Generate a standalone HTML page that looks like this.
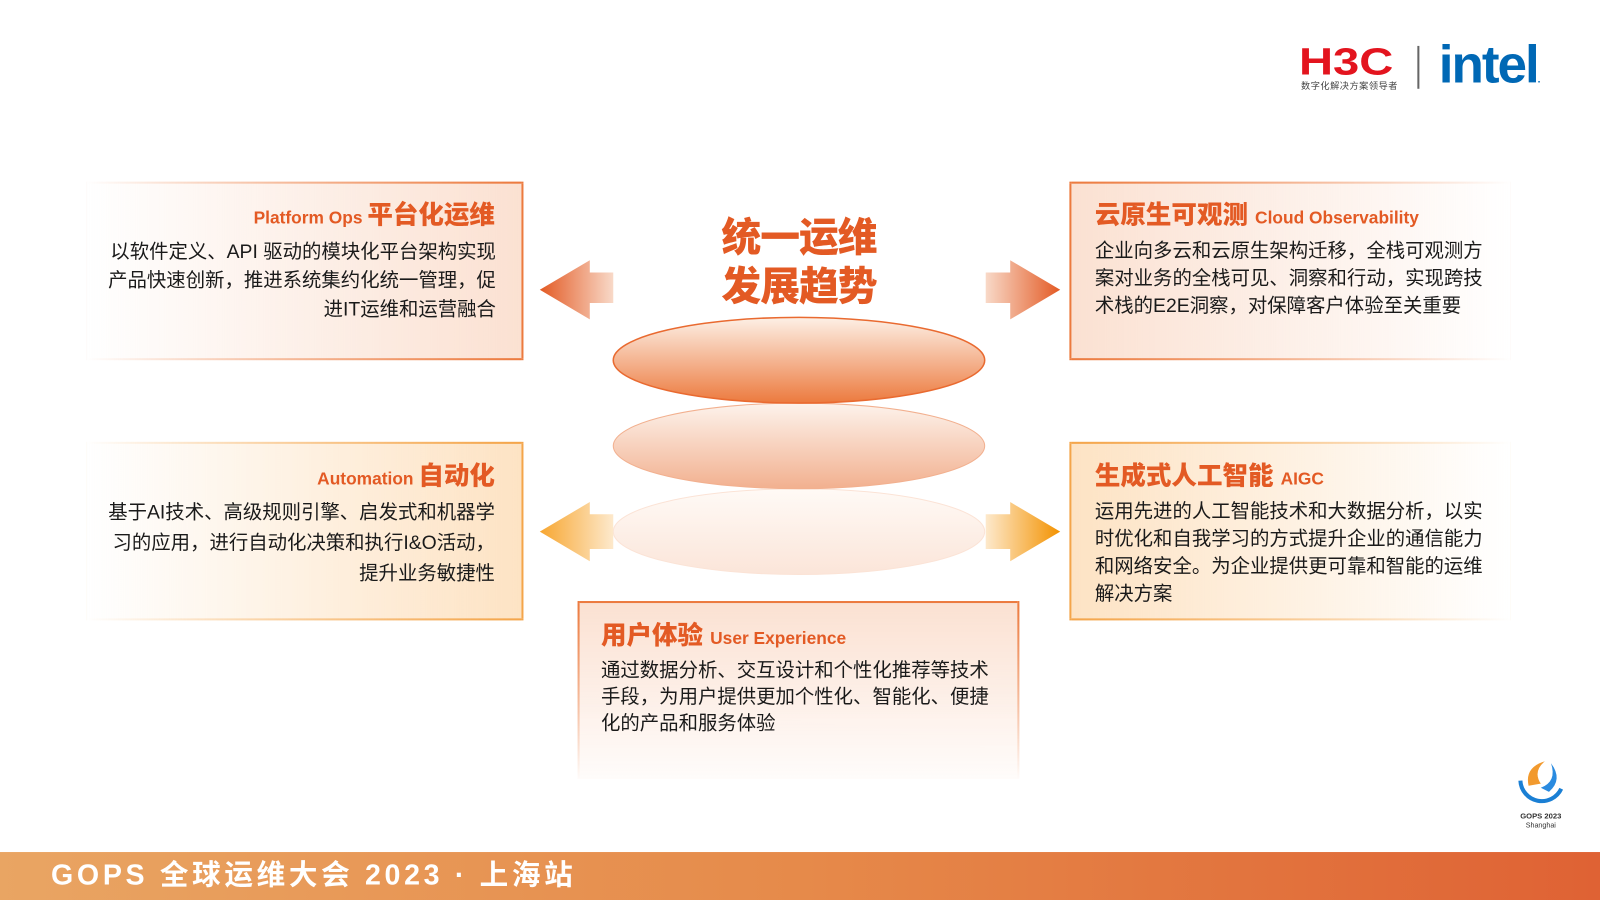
<!DOCTYPE html>
<html><head><meta charset="utf-8">
<style>
html,body{margin:0;padding:0;background:#fff;width:1600px;height:900px;overflow:hidden}
#s{position:absolute;left:0;top:0;width:1568px;height:882px;transform:scale(1.020408);transform-origin:0 0;font-family:"Liberation Sans","Noto Sans CJK SC",sans-serif;color:#222}
.box{position:absolute;box-sizing:border-box}
.t{position:absolute;font-weight:bold;color:#e35a24;white-space:nowrap}
.t small{font-size:17px}
.t b{font-size:25px}
.p{position:absolute;font-size:19px;line-height:28px;color:#1a1a1a;white-space:nowrap}
</style></head><body><div id="s">
<!-- logos -->
<div style="position:absolute;left:1273px;top:40px;font:bold 37px 'Liberation Sans',sans-serif;color:#e3141e;letter-spacing:0px;transform:scaleX(1.25);transform-origin:0 0">H3C</div>
<div style="position:absolute;left:1275px;top:77px;font-size:9px;color:#444;letter-spacing:0.5px">数字化解决方案领导者</div>
<div style="position:absolute;left:1389px;top:45px;width:2px;height:42px;background:#666"></div>
<div style="position:absolute;left:1410px;top:34px;font:bold 52px 'Liberation Sans',sans-serif;color:#0068b5;letter-spacing:-2px">intel<span style="font-size:10px">.</span></div>

<!-- top-left box -->
<div class="box" style="left:85px;top:178px;width:428px;height:175px;background:linear-gradient(90deg,rgba(251,225,210,0),#fbe1d2);border:2px solid;border-left:none;border-image:linear-gradient(90deg,rgba(236,120,60,0),#ec7a3e) 1"></div>
<div class="t" style="right:1083px;top:191px"><small>Platform Ops </small><b>平台化运维</b></div>
<div class="p" style="right:1082px;top:234px;text-align:right">以软件定义、API 驱动的模块化平台架构实现<br>产品快速创新，推进系统集约化统一管理，促<br>进IT运维和运营融合</div>

<!-- bottom-left box -->
<div class="box" style="left:85px;top:433px;width:428px;height:175px;background:linear-gradient(90deg,rgba(253,232,205,0),#fde3c4);border:2px solid;border-left:none;border-image:linear-gradient(90deg,rgba(245,170,80,0),#f4a54a) 1"></div>
<div class="t" style="right:1083px;top:447px"><small>Automation </small><b>自动化</b></div>
<div class="p" style="right:1083px;top:488px;text-align:right;line-height:30px">基于AI技术、高级规则引擎、启发式和机器学<br>习的应用，进行自动化决策和执行I&amp;O活动，<br>提升业务敏捷性</div>

<!-- top-right box -->
<div class="box" style="left:1048px;top:178px;width:432px;height:175px;background:linear-gradient(90deg,#fbe1d2,rgba(251,225,210,0));border:2px solid;border-right:none;border-image:linear-gradient(90deg,#ec7a3e,rgba(236,120,60,0)) 1"></div>
<div class="t" style="left:1073px;top:191px"><b>云原生可观测 </b><small>Cloud Observability</small></div>
<div class="p" style="left:1073px;top:233px;line-height:27px">企业向多云和云原生架构迁移，全栈可观测方<br>案对业务的全栈可见、洞察和行动，实现跨技<br>术栈的E2E洞察，对保障客户体验至关重要</div>

<!-- bottom-right box -->
<div class="box" style="left:1048px;top:433px;width:432px;height:175px;background:linear-gradient(90deg,#fde3c4,rgba(253,232,205,0));border:2px solid;border-right:none;border-image:linear-gradient(90deg,#f4a54a,rgba(245,170,80,0)) 1"></div>
<div class="t" style="left:1073px;top:447px"><b>生成式人工智能 </b><small>AIGC</small></div>
<div class="p" style="left:1073px;top:488px;line-height:27px">运用先进的人工智能技术和大数据分析，以实<br>时优化和自我学习的方式提升企业的通信能力<br>和网络安全。为企业提供更可靠和智能的运维<br>解决方案</div>

<!-- bottom center box -->
<div class="box" style="left:566px;top:589px;width:433px;height:174px;background:linear-gradient(180deg,#fbe1d2,rgba(251,225,210,0.1));border:2px solid;border-bottom:none;border-image:linear-gradient(180deg,#ec7a3e,rgba(236,120,60,0)) 1"></div>
<div class="t" style="left:589px;top:603px"><b>用户体验 </b><small>User Experience</small></div>
<div class="p" style="left:589px;top:645px;line-height:26px">通过数据分析、交互设计和个性化推荐等技术<br>手段，为用户提供更加个性化、智能化、便捷<br>化的产品和服务体验</div>

<!-- center -->
<div style="position:absolute;left:683px;top:210px;width:200px;text-align:center;font-size:39px;line-height:48px;font-weight:900;color:#e35a24;letter-spacing:-1px">统一运维<br>发展趋势</div>
<svg style="position:absolute;left:0;top:0" width="1568" height="882">
<defs>
<linearGradient id="e1" x1="0" y1="0" x2="0" y2="1"><stop offset="0" stop-color="#fdf0e6"/><stop offset="1" stop-color="#ec7a3e"/></linearGradient>
<linearGradient id="e2" x1="0" y1="0" x2="0" y2="1"><stop offset="0" stop-color="#fdf3ec"/><stop offset="1" stop-color="#f2b08f"/></linearGradient>
<linearGradient id="e3" x1="0" y1="0" x2="0" y2="1"><stop offset="0" stop-color="#fffaf6"/><stop offset="1" stop-color="#fbe5d9"/></linearGradient>
<linearGradient id="al" x1="0" y1="0" x2="1" y2="0"><stop offset="0" stop-color="#e35a24"/><stop offset="1" stop-color="#f8d9c8"/></linearGradient>
<linearGradient id="ar" x1="1" y1="0" x2="0" y2="0"><stop offset="0" stop-color="#e35a24"/><stop offset="1" stop-color="#f8d9c8"/></linearGradient>
<linearGradient id="yl" x1="0" y1="0" x2="1" y2="0"><stop offset="0" stop-color="#f7a630"/><stop offset="1" stop-color="#fde9cc"/></linearGradient>
<linearGradient id="yr" x1="1" y1="0" x2="0" y2="0"><stop offset="0" stop-color="#f39200"/><stop offset="1" stop-color="#fde9cc"/></linearGradient>
</defs>
<ellipse cx="783" cy="521" rx="182" ry="42" fill="url(#e3)" stroke="#fbe3d6"/>
<ellipse cx="783" cy="437" rx="182" ry="42" fill="url(#e2)" stroke="#f2b08f"/>
<ellipse cx="783" cy="353" rx="182" ry="42" fill="url(#e1)" stroke="#e96a30" stroke-width="1.5"/>
<polygon points="529,284 578,255 578,267 601,267 601,297 578,297 578,313" fill="url(#al)"/>
<polygon points="1039,284 990,255 990,267 966,267 966,297 990,297 990,313" fill="url(#ar)"/>
<polygon points="529,521 578,492 578,504 601,504 601,538 578,538 578,550" fill="url(#yl)"/>
<polygon points="1039,521 990,492 990,504 966,504 966,538 990,538 990,550" fill="url(#yr)"/>
<!-- gops logo -->
<path d="M1490,765 a21,21 0 0 0 40,8" fill="none" stroke="#1a7fd4" stroke-width="4"/>
<path d="M1498,770 q-4,-18 16,-24 q-12,10 -4,22 z" fill="#f29a2e"/>
<path d="M1510,772 q16,-6 10,-24 q12,16 -2,28 z" fill="#2a8be0"/>
<text x="1510" y="802" font-size="7.5" font-weight="bold" text-anchor="middle" font-family="Liberation Sans" fill="#333">GOPS 2023</text>
<text x="1510" y="811" font-size="7" text-anchor="middle" font-family="Liberation Sans" fill="#333">Shanghai</text>
</svg>

<!-- footer -->
<div style="position:absolute;left:0;top:835px;width:1568px;height:47px;background:linear-gradient(90deg,#e9a563,#e68a4a 50%,#df6234)"></div>
<div style="position:absolute;left:50px;top:838px;font-size:28px;font-weight:bold;color:#fff;letter-spacing:3.6px;line-height:40px">GOPS 全球运维大会 2023 · 上海站</div>
</div></body></html>
